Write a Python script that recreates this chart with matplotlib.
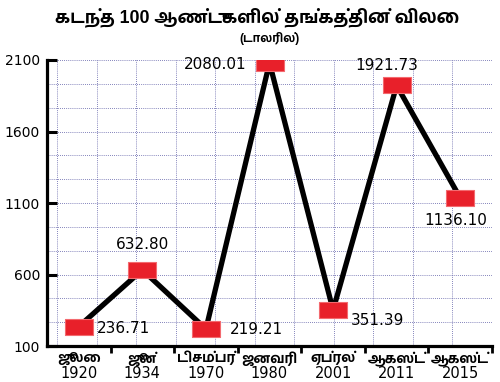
import numpy as np
import matplotlib
matplotlib.use("Agg")
import matplotlib.pyplot as plt

# data
months = ["ஜூலை", "ஜூன்", "டிசம்பர்", "ஜனவரி", "ஏப்ரல்", "ஆகஸ்ட்", "ஆகஸ்ட்"]
years = ["1920", "1934", "1970", "1980", "2001", "2011", "2015"]
price = [236.71, 632.80, 219.21, 2080.01, 351.39, 1921.73, 1136.10]
yticks = [100, 600, 1100, 1600, 2100]

# label offsets in px (dx, dy, ha)
label_pos = [(18, -2, "left"), (0, 25, "center"), (24, 0, "left"),
             (-23, -2, "right"), (18, -10, "left"), (-10, 20, "center"),
             (-4, -23, "center")]

TAMIL = ["DejaVu Sans", "Hind Madurai"]
TITLE_FONT = ["Liberation Sans", "Hind Madurai"]

fig = plt.figure(figsize=(5, 3.82), dpi=100)
ax = fig.add_axes([0.094, 0.094, 0.89, 0.749])

x = np.arange(len(price))
ax.set_xlim(-0.5, len(price) - 0.5)
ax.set_ylim(100, 2100)

# grid
grid_kw = dict(color="#5c5ca6", lw=0.6, ls=(0, (1, 1.5)), zorder=1)
for gy in np.arange(100, 2101, 500 / 3):
    ax.axhline(gy, **grid_kw)
gx = -0.5 + len(price) * np.linspace(0.0225, 1, 12)
ax.vlines(gx, 0, 1, transform=ax.get_xaxis_transform(), **grid_kw)

ax.plot(x, price, color="black", lw=3.8, zorder=3, solid_capstyle="butt")
rect = [(-1, -0.6), (1, -0.6), (1, 0.6), (-1, 0.6), (-1, -0.6)]
ax.plot(x, price, ls="none", marker=rect, markersize=19.5,
        markerfacecolor="#e8202a", markeredgecolor="#f36a6f",
        markeredgewidth=0.8, zorder=4)

for xi, v, (dx, dy, ha) in zip(x, price, label_pos):
    ax.annotate(f"{v:.2f}", (xi, v), xytext=(dx * 0.72, dy * 0.72),
                textcoords="offset points", ha=ha, va="center",
                fontsize=11, family="DejaVu Sans", color="black", zorder=5)

for s in ["top", "right"]:
    ax.spines[s].set_visible(False)
ax.spines["left"].set_linewidth(2.3)
ax.spines["bottom"].set_linewidth(2.3)

ax.set_yticks(yticks)
ax.set_yticklabels([str(t) for t in yticks], fontsize=10, family="DejaVu Sans")
ax.tick_params(axis="y", direction="in", length=7.5, width=2.2, pad=5)

ax.set_xticks(x)
ax.set_xticklabels([])
ax.set_xticks(np.arange(0.5, len(price)), minor=True)
ax.tick_params(axis="x", which="major", length=0)
ax.tick_params(axis="x", which="minor", direction="out", length=5, width=2)

for xi, m, yr in zip(x, months, years):
    ax.text(xi, -0.043, m, transform=ax.get_xaxis_transform(), ha="center",
            va="center", fontsize=9.8, family=TAMIL, fontweight="bold")
    ax.text(xi, -0.097, yr, transform=ax.get_xaxis_transform(), ha="center",
            va="center", fontsize=10.5, family="DejaVu Sans")

fig.text(0.515, 0.956, "கடந்த 100 ஆண்டுகளில் தங்கத்தின் விலை", ha="center",
         va="center", fontsize=12.8, family=TITLE_FONT, fontweight="bold")
fig.text(0.54, 0.9, "(டாலரில்)", ha="center", va="center", fontsize=8.5,
         family=TITLE_FONT, fontweight="bold")

fig.savefig("out.png", dpi=100)
